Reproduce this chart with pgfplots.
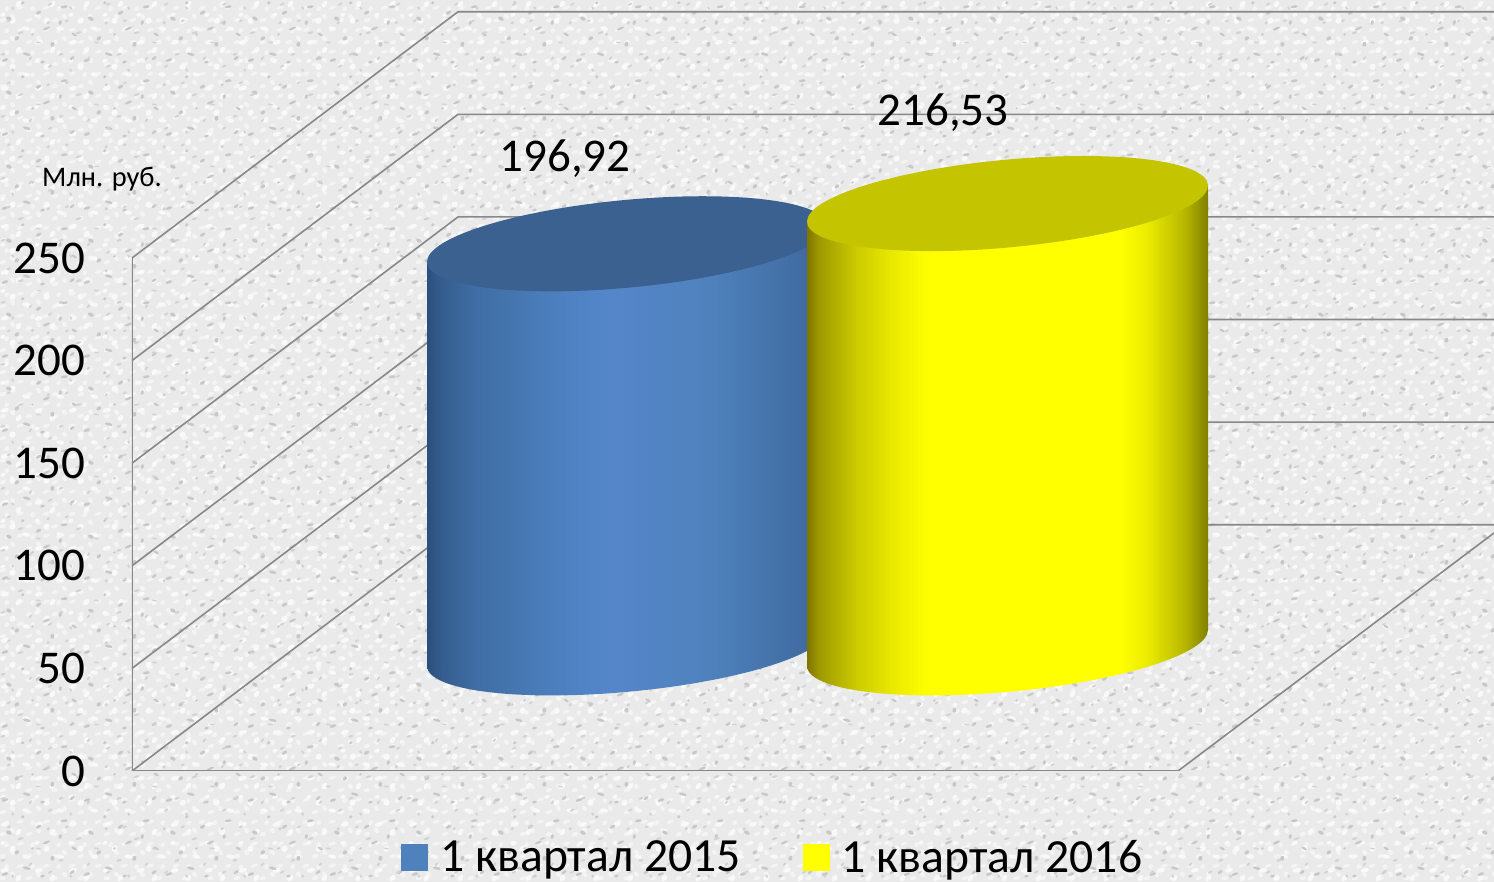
\documentclass[border=0pt]{standalone}
\usepackage{fontspec}
\setmainfont{Carlito}
\usepackage{pgfplots}
\pgfplotsset{compat=1.18}
\usetikzlibrary{patterns}
\definecolor{bgbase}{HTML}{EAEAEA}
\definecolor{speckdark}{HTML}{C8C8C8}
\definecolor{gridc}{HTML}{888888}
\definecolor{legblue}{HTML}{4F81BD}
\definecolor{legyellow}{HTML}{FFFF00}
\definecolor{tb}{HTML}{3A618F}
\definecolor{ty}{HTML}{C4C400}
\pgfdeclarehorizontalshading{cylblue}{100bp}{
 rgb(0bp)=(0.17,0.31,0.49);
 rgb(25bp)=(0.17,0.31,0.49);
 rgb(27bp)=(0.21,0.37,0.56);
 rgb(31.25bp)=(0.25,0.43,0.65);
 rgb(35.5bp)=(0.27,0.46,0.68);
 rgb(39.5bp)=(0.29,0.49,0.73);
 rgb(45.5bp)=(0.32,0.52,0.78);
 rgb(48.5bp)=(0.33,0.525,0.79);
 rgb(60bp)=(0.31,0.51,0.74);
 rgb(72.5bp)=(0.25,0.42,0.63);
 rgb(75bp)=(0.22,0.38,0.57);
 rgb(100bp)=(0.22,0.38,0.57)}
\pgfdeclarehorizontalshading{cylyellow}{100bp}{
 rgb(0bp)=(0.50,0.46,0);
 rgb(25bp)=(0.50,0.46,0);
 rgb(26.5bp)=(0.62,0.60,0);
 rgb(31.25bp)=(0.80,0.80,0);
 rgb(35.5bp)=(0.91,0.91,0);
 rgb(39.5bp)=(0.99,0.99,0);
 rgb(41bp)=(1,1,0);
 rgb(64bp)=(1,1,0);
 rgb(67.5bp)=(0.92,0.92,0);
 rgb(72bp)=(0.72,0.72,0);
 rgb(75bp)=(0.50,0.50,0);
 rgb(100bp)=(0.50,0.50,0)}
% cylinder end caps, in picture units (1 reference pixel = 0.5pt)
\pgfdeclareplotmark{baseblue}{\pgfpathellipse{\pgfpointorigin}{\pgfqpoint{100pt}{9pt}}{\pgfqpoint{0pt}{22pt}}\pgfshadepath{cylblue}{0}\pgfusepath{}}
\pgfdeclareplotmark{baseyellow}{\pgfpathellipse{\pgfpointorigin}{\pgfqpoint{100.25pt}{9pt}}{\pgfqpoint{0pt}{22pt}}\pgfshadepath{cylyellow}{0}\pgfusepath{}}
\pgfdeclareplotmark{topblue}{\pgfpathellipse{\pgfpointorigin}{\pgfqpoint{100pt}{9pt}}{\pgfqpoint{0pt}{22pt}}\pgfsetfillcolor{tb}\pgfusepathqfill}
\pgfdeclareplotmark{topyellow}{\pgfpathellipse{\pgfpointorigin}{\pgfqpoint{100.25pt}{9pt}}{\pgfqpoint{0pt}{22pt}}\pgfsetfillcolor{ty}\pgfusepathqfill}
% paper texture
\pgfdeclarepatternformonly{speckA}{\pgfqpoint{0pt}{0pt}}{\pgfqpoint{41pt}{37pt}}{\pgfqpoint{41pt}{37pt}}{
 \pgfpathellipse{\pgfqpoint{3pt}{4pt}}{\pgfqpoint{1.6pt}{0.4pt}}{\pgfqpoint{0pt}{0.8pt}}
 \pgfpathellipse{\pgfqpoint{9pt}{15pt}}{\pgfqpoint{1.1pt}{0.6pt}}{\pgfqpoint{-0.3pt}{0.9pt}}
 \pgfpathellipse{\pgfqpoint{14pt}{7pt}}{\pgfqpoint{1.9pt}{-0.5pt}}{\pgfqpoint{0.2pt}{0.7pt}}
 \pgfpathellipse{\pgfqpoint{20pt}{28pt}}{\pgfqpoint{1.3pt}{0.5pt}}{\pgfqpoint{0pt}{0.9pt}}
 \pgfpathellipse{\pgfqpoint{27pt}{12pt}}{\pgfqpoint{1.0pt}{0.3pt}}{\pgfqpoint{-0.2pt}{1.2pt}}
 \pgfpathellipse{\pgfqpoint{33pt}{31pt}}{\pgfqpoint{1.7pt}{0.2pt}}{\pgfqpoint{0pt}{0.7pt}}
 \pgfpathellipse{\pgfqpoint{37pt}{5pt}}{\pgfqpoint{1.2pt}{0.6pt}}{\pgfqpoint{0pt}{0.8pt}}
 \pgfpathellipse{\pgfqpoint{5pt}{25pt}}{\pgfqpoint{1.4pt}{-0.4pt}}{\pgfqpoint{0pt}{1.0pt}}
 \pgfpathellipse{\pgfqpoint{12pt}{33pt}}{\pgfqpoint{0.9pt}{0.2pt}}{\pgfqpoint{0pt}{0.8pt}}
 \pgfpathellipse{\pgfqpoint{24pt}{20pt}}{\pgfqpoint{1.8pt}{0.7pt}}{\pgfqpoint{0pt}{0.7pt}}
 \pgfpathellipse{\pgfqpoint{31pt}{23pt}}{\pgfqpoint{0.8pt}{0.3pt}}{\pgfqpoint{0pt}{1.1pt}}
 \pgfpathellipse{\pgfqpoint{38pt}{17pt}}{\pgfqpoint{1.3pt}{-0.6pt}}{\pgfqpoint{0pt}{0.7pt}}
 \pgfpathellipse{\pgfqpoint{17pt}{17pt}}{\pgfqpoint{0.8pt}{0.2pt}}{\pgfqpoint{0pt}{0.6pt}}
 \pgfpathellipse{\pgfqpoint{22pt}{3pt}}{\pgfqpoint{1.1pt}{0.2pt}}{\pgfqpoint{0pt}{0.7pt}}
 \pgfusepathqfill}
\pgfdeclarepatternformonly{speckB}{\pgfqpoint{0pt}{0pt}}{\pgfqpoint{29pt}{31pt}}{\pgfqpoint{29pt}{31pt}}{
 \pgfpathellipse{\pgfqpoint{2pt}{11pt}}{\pgfqpoint{1.2pt}{0.3pt}}{\pgfqpoint{0pt}{0.6pt}}
 \pgfpathellipse{\pgfqpoint{7pt}{3pt}}{\pgfqpoint{0.8pt}{-0.3pt}}{\pgfqpoint{0pt}{0.9pt}}
 \pgfpathellipse{\pgfqpoint{11pt}{22pt}}{\pgfqpoint{1.5pt}{0.4pt}}{\pgfqpoint{0pt}{0.6pt}}
 \pgfpathellipse{\pgfqpoint{16pt}{9pt}}{\pgfqpoint{0.9pt}{0.4pt}}{\pgfqpoint{0pt}{0.8pt}}
 \pgfpathellipse{\pgfqpoint{20pt}{17pt}}{\pgfqpoint{1.3pt}{-0.2pt}}{\pgfqpoint{0pt}{0.5pt}}
 \pgfpathellipse{\pgfqpoint{25pt}{27pt}}{\pgfqpoint{0.9pt}{0.2pt}}{\pgfqpoint{0pt}{0.9pt}}
 \pgfpathellipse{\pgfqpoint{26pt}{5pt}}{\pgfqpoint{1.1pt}{0.5pt}}{\pgfqpoint{0pt}{0.6pt}}
 \pgfpathellipse{\pgfqpoint{5pt}{28pt}}{\pgfqpoint{1.0pt}{0.2pt}}{\pgfqpoint{0pt}{0.7pt}}
 \pgfusepathqfill}
\pgfdeclarepatternformonly{speckC}{\pgfqpoint{0pt}{0pt}}{\pgfqpoint{13pt}{11pt}}{\pgfqpoint{13pt}{11pt}}{
 \pgfpathellipse{\pgfqpoint{2pt}{2pt}}{\pgfqpoint{1.7pt}{0.3pt}}{\pgfqpoint{0pt}{1.1pt}}
 \pgfpathellipse{\pgfqpoint{7pt}{4pt}}{\pgfqpoint{1.3pt}{-0.4pt}}{\pgfqpoint{0pt}{1.4pt}}
 \pgfpathellipse{\pgfqpoint{11pt}{8.5pt}}{\pgfqpoint{1.8pt}{0.5pt}}{\pgfqpoint{0pt}{1.0pt}}
 \pgfpathellipse{\pgfqpoint{4pt}{8pt}}{\pgfqpoint{1.2pt}{0.2pt}}{\pgfqpoint{0pt}{1.3pt}}
 \pgfusepathqfill}
\pgfdeclarepatternformonly{speckD}{\pgfqpoint{0pt}{0pt}}{\pgfqpoint{17pt}{23pt}}{\pgfqpoint{17pt}{23pt}}{
 \pgfpathellipse{\pgfqpoint{3pt}{6pt}}{\pgfqpoint{2.1pt}{0.4pt}}{\pgfqpoint{0pt}{1.2pt}}
 \pgfpathellipse{\pgfqpoint{10pt}{2pt}}{\pgfqpoint{1.5pt}{0.6pt}}{\pgfqpoint{0pt}{1.5pt}}
 \pgfpathellipse{\pgfqpoint{14pt}{13pt}}{\pgfqpoint{2.0pt}{-0.3pt}}{\pgfqpoint{0pt}{1.1pt}}
 \pgfpathellipse{\pgfqpoint{7pt}{17pt}}{\pgfqpoint{1.6pt}{0.2pt}}{\pgfqpoint{0pt}{1.6pt}}
 \pgfpathellipse{\pgfqpoint{2pt}{20pt}}{\pgfqpoint{1.3pt}{0.3pt}}{\pgfqpoint{0pt}{1.0pt}}
 \pgfusepathqfill}
\begin{document}
\begin{tikzpicture}
\path[use as bounding box] (0,0) rectangle (747pt,441pt);
\fill[bgbase] (0,0) rectangle (747pt,441pt);
\fill[pattern=speckC, pattern color=white!50!bgbase] (0,0) rectangle (747pt,441pt);
\fill[pattern=speckD, pattern color=white!70!bgbase] (0,0) rectangle (747pt,441pt);
\fill[pattern=speckA, pattern color=speckdark] (0,0) rectangle (747pt,441pt);
\fill[pattern=speckB, pattern color=speckdark!80!white] (0,0) rectangle (747pt,441pt);
\begin{axis}[
  at={(66pt,55.5pt)}, anchor=south west,
  scale only axis, width=681pt, height=385.5pt,
  xmin=132, xmax=1494, ymin=0, ymax=375.73,
  clip mode=individual,
  axis line style={draw=none},
  major tick length=0pt,
  xtick=\empty,
  ytick={0,50,100,150,200,250},
  /pgf/number format/assume math mode=true,
  y tick label style={font=\fontsize{23.5}{26}\selectfont, xshift=-20pt},
  legend style={draw=none, fill=none, inner sep=0pt, outer sep=0pt,
    at={(0.4712,-0.1125)}, anchor=center, legend columns=2,
    font=\fontsize{23.8}{26}\selectfont,
    /tikz/every even column/.append style={column sep=29pt}},
  legend cell align=left,
  every axis plot/.append style={forget plot},
  grid line/.style={draw=gridc, line width=0.8pt},
]
% --- walls: front edge, side lines and back wall lines
\addplot[grid line] coordinates {(132,0) (132,250)};
\addplot[grid line] coordinates {(132,0) (1178,0) (1494,116)};
\addplot[grid line] coordinates {(132,0) (458,120) (1494,120)};
\addplot[grid line] coordinates {(132,50) (458,170) (1494,170)};
\addplot[grid line] coordinates {(132,100) (458,220) (1494,220)};
\addplot[grid line] coordinates {(132,150) (458,270) (1494,270)};
\addplot[grid line] coordinates {(132,200) (458,320) (1494,320)};
\addplot[grid line] coordinates {(132,250) (458,370) (1494,370)};
% --- 1 kvartal 2015: base at 60, height 196.92
\addplot[only marks, mark=baseblue] coordinates {(627,60)};
\addplot[draw=none, shade, shading=cylblue, shading angle=0] coordinates {(427,51.23) (427,248.15) (827,265.69) (827,68.77)} --cycle;
\addplot[only marks, mark=topblue] coordinates {(627,256.92)};
% --- 1 kvartal 2016: base at 60, height 216.53
\addplot[only marks, mark=baseyellow] coordinates {(1007.5,60)};
\addplot[draw=none, shade, shading=cylyellow, shading angle=0] coordinates {(807,51.23) (807,267.76) (1208,285.30) (1208,68.77)} --cycle;
\addplot[only marks, mark=topyellow] coordinates {(1007.5,276.53)};
% --- labels
\node[font=\fontsize{23.5}{26}\selectfont] at (axis cs:565,298.2) {196,92};
\node[font=\fontsize{23.5}{26}\selectfont] at (axis cs:943,320.6) {216,53};
\node[font=\fontsize{14.2}{16}\selectfont] at (axis cs:102,288.5) {Млн. руб.};
% --- legend
\pgfplotsset{legend image code/.code={\fill[#1] (0pt,-6.75pt) rectangle (13.5pt,6.75pt); \path (17.5pt,0pt);}}
\addlegendimage{fill=legblue, draw=none}
\addlegendentry{1 квартал 2015}
\addlegendimage{fill=legyellow, draw=none}
\addlegendentry{1 квартал 2016}
\end{axis}
\end{tikzpicture}
\end{document}
